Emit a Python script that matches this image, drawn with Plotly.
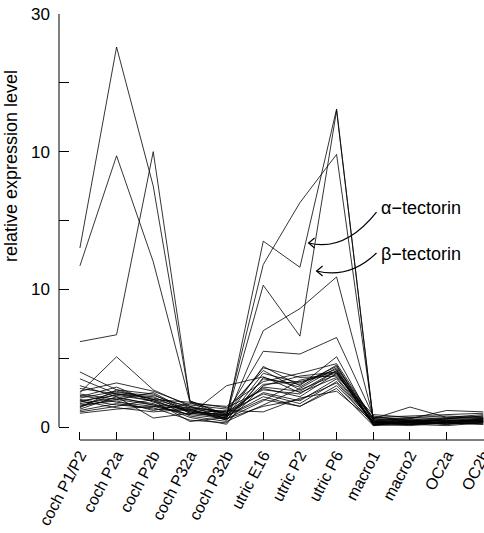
import plotly.graph_objects as go

categories = ["coch P1/P2", "coch P2a", "coch P2b", "coch P32a", "coch P32b",
              "utric E16", "utric P2", "utric P6", "macro1", "macro2", "OC2a", "OC2b"]

# y tick labels as printed in the original figure
y_tick_values = [0, 5, 10, 15, 20, 25, 30]
y_tick_labels = ["0", "", "10", "", "10", "", "30"]

# expression profiles (one list per gene)
gene_01 = [13.0, 27.6, 17.5, 1.9, 0.9, 11.8, 16.3, 19.8, 0.6, 0.5, 0.4, 0.5]
gene_02 = [11.7, 19.7, 12.0, 1.8, 0.7, 13.5, 11.6, 23.1, 0.4, 0.3, 0.3, 0.4]   # alpha-tectorin
gene_03 = [6.2, 6.7, 20.0, 1.9, 0.8, 10.3, 6.6, 23.0, 0.5, 0.4, 0.5, 0.3]      # beta-tectorin
gene_04 = [2.5, 5.1, 2.7, 1.5, 0.6, 7.0, 8.6, 10.9, 0.7, 0.6, 0.5, 0.6]
gene_05 = [4.0, 2.7, 2.0, 1.3, 1.0, 5.5, 5.3, 6.5, 0.8, 0.4, 0.6, 0.7]
gene_06 = [3.5, 2.4, 2.2, 1.0, 0.7, 4.4, 3.0, 5.1, 0.3, 0.2, 0.4, 0.5]
gene_07 = [2.2, 2.9, 1.8, 1.2, 0.5, 3.9, 3.2, 4.2, 0.3, 0.2, 0.3, 0.5]
gene_08 = [1.8, 2.5, 2.3, 1.4, 1.1, 2.8, 2.2, 3.9, 0.2, 0.4, 0.2, 0.6]
gene_09 = [1.5, 2.0, 1.6, 0.9, 3.0, 3.65, 2.5, 3.6, 0.4, 0.3, 0.5, 0.4]
gene_10 = [1.3, 2.2, 0.65, 1.0, 0.8, 2.2, 1.5, 2.8, 0.1, 0.5, 0.3, 0.3]
gene_11 = [2.0, 1.6, 1.4, 0.5, 0.3, 3.0, 3.7, 4.0, 0.2, 0.1, 0.3, 0.2]
gene_12 = [1.1, 1.5, 2.0, 0.8, 0.4, 1.6, 2.8, 4.3, 0.5, 0.7, 0.6, 0.8]
gene_13 = [2.6, 3.2, 2.6, 1.6, 1.3, 4.1, 2.7, 3.8, 0.7, 0.8, 0.9, 1.0]
gene_14 = [1.6, 1.9, 1.2, 1.7, 1.5, 3.3, 3.9, 4.6, 0.6, 1.45, 0.7, 0.9]
gene_15 = [1.9, 2.3, 1.9, 1.1, 0.9, 2.5, 1.9, 3.5, 0.3, 0.6, 1.2, 1.1]
gene_16 = [2.3, 1.8, 1.5, 1.3, 0.6, 1.9, 3.4, 4.0, 0.2, 0.3, 0.2, 0.4]
gene_17 = [1.4, 2.7, 2.4, 1.0, 1.2, 1.1, 2.1, 2.6, 0.4, 0.5, 0.4, 0.6]
gene_18 = [1.7, 2.1, 1.7, 0.7, 0.2, 3.6, 2.9, 4.5, 0.1, 0.2, 0.1, 0.3]
gene_19 = [2.8, 2.4, 2.1, 1.5, 1.0, 4.3, 3.6, 3.7, 0.9, 0.7, 0.8, 0.7]
gene_20 = [1.2, 1.7, 1.3, 1.2, 0.8, 2.0, 1.5, 3.0, 0.3, 0.4, 0.5, 0.5]
gene_21 = [2.1, 2.6, 2.0, 1.8, 1.4, 2.7, 2.4, 4.1, 0.5, 0.3, 0.6, 0.8]
gene_22 = [1.5, 2.4, 1.9, 0.4, 0.7, 3.1, 3.3, 3.9, 0.2, 0.3, 0.3, 0.2]
gene_23 = [3.0, 2.2, 1.6, 1.4, 1.1, 2.4, 1.7, 3.3, 0.4, 0.2, 0.4, 0.5]
gene_24 = [1.9, 1.4, 1.1, 1.3, 0.5, 3.5, 3.1, 4.4, 0.6, 0.5, 0.7, 0.6]
gene_25 = [1.0, 1.3, 1.5, 0.9, 0.6, 1.5, 2.0, 3.2, 0.2, 0.2, 0.3, 0.4]
gene_26 = [2.4, 2.0, 2.5, 1.1, 0.9, 2.9, 2.6, 4.1, 0.3, 0.4, 0.2, 0.3]

genes = [gene_01, gene_02, gene_03, gene_04, gene_05, gene_06, gene_07, gene_08,
         gene_09, gene_10, gene_11, gene_12, gene_13, gene_14, gene_15, gene_16,
         gene_17, gene_18, gene_19, gene_20, gene_21, gene_22, gene_23, gene_24,
         gene_25, gene_26]

x_idx = list(range(len(categories)))
FONT = "Liberation Sans, Arial, Helvetica, sans-serif"

fig = go.Figure()
for g in genes:
    fig.add_trace(go.Scatter(x=x_idx, y=g, mode="lines",
                             line=dict(color="black", width=0.8),
                             showlegend=False, hoverinfo="skip"))

# detached axis lines
fig.add_shape(type="line", xref="paper", yref="y", x0=0, x1=0, y0=0, y1=30,
              line=dict(color="black", width=1))
fig.add_shape(type="line", xref="x", yref="paper", x0=0, x1=11.05, y0=0, y1=0,
              line=dict(color="black", width=1))

# curved arrows to the tectorin lines (data coordinates)
def px2d(px, py):
    return ((px - 79.9) / 36.73, (427 - py) / 13.767)

def curve(p0, p1, p2):
    a, b, c = px2d(*p0), px2d(*p1), px2d(*p2)
    return f"M {a[0]},{a[1]} Q {b[0]},{b[1]} {c[0]},{c[1]}"

def head(tip, up, down):
    t, u, d = px2d(*tip), px2d(*up), px2d(*down)
    return f"M {u[0]},{u[1]} L {t[0]},{t[1]} L {d[0]},{d[1]}"

for p0, p1, p2 in [((377, 212), (345, 252), (309, 243)),
                   ((377, 253), (350, 279), (317, 271))]:
    fig.add_shape(type="path", xref="x", yref="y", path=curve(p0, p1, p2),
                  line=dict(color="black", width=1.2))
    fig.add_shape(type="path", xref="x", yref="y",
                  path=head(p2, (p2[0] + 6, p2[1] - 5), (p2[0] + 6, p2[1] + 5)),
                  line=dict(color="black", width=1.2))

fig.add_annotation(x=px2d(379, 0)[0], y=px2d(0, 208)[1], xref="x", yref="y",
                   text="α−tectorin", showarrow=False, xanchor="left", yanchor="middle",
                   font=dict(family=FONT, size=18, color="black"))
fig.add_annotation(x=px2d(379, 0)[0], y=px2d(0, 254)[1], xref="x", yref="y",
                   text="β−tectorin", showarrow=False, xanchor="left", yanchor="middle",
                   font=dict(family=FONT, size=18, color="black"))

# y axis title
fig.add_annotation(x=(11 - 59) / 425, y=(440 - 166) / 426, xref="paper", yref="paper",
                   text="relative expression level", textangle=-90, showarrow=False,
                   xanchor="center", yanchor="middle",
                   font=dict(family=FONT, size=18, color="black"))

fig.update_layout(
    width=484, height=533,
    margin=dict(l=59, r=0, t=14, b=93, autoexpand=False),
    plot_bgcolor="white", paper_bgcolor="white",
    font=dict(family=FONT, size=17, color="black"),
    xaxis=dict(range=[-0.57, 11.02], tickmode="array", tickvals=x_idx, ticktext=categories,
               tickangle=-62, ticks="inside", ticklen=8, tickwidth=1, tickcolor="black",
               showline=False, showgrid=False, zeroline=False, ticklabelstandoff=2,
               automargin=False, ticklabeloverflow="allow",
               tickfont=dict(family=FONT, size=16, color="black")),
    yaxis=dict(range=[-0.944, 30], tickmode="array", tickvals=y_tick_values,
               ticktext=y_tick_labels, ticks="inside", ticklen=10, tickwidth=1,
               tickcolor="black", showline=False, showgrid=False, zeroline=False,
               ticklabelstandoff=8, automargin=False,
               tickfont=dict(family=FONT, size=17, color="black")),
)

fig.write_html("out.html", config={"displayModeBar": False},
               post_script="document.body.style.margin='0px';"
                           "document.body.style.overflow='hidden';")
